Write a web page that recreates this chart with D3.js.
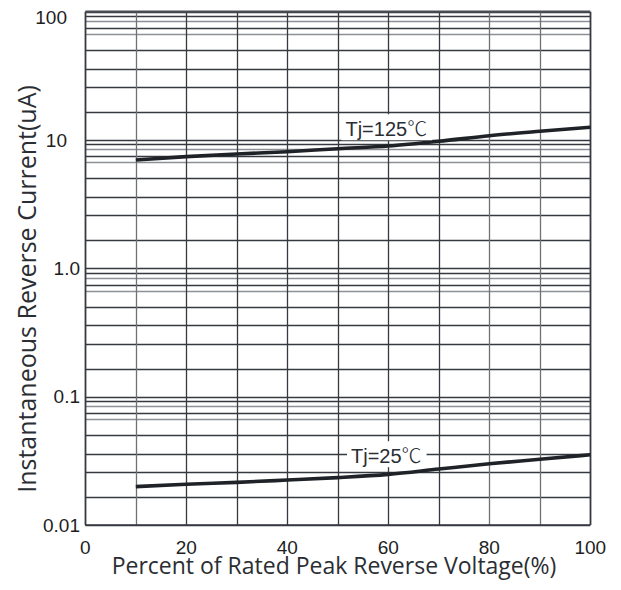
<!DOCTYPE html>
<html>
<head>
<meta charset="utf-8">
<script src="https://cdn.jsdelivr.net/npm/d3@7"></script>
<style>
  html, body { margin: 0; padding: 0; background: #fff; }
  svg { display: block; }
</style>
</head>
<body>
<svg id="chart" width="621" height="590"></svg>
<script>
// ---- data ----
const voltagePct = [10, 20, 30, 40, 50, 60, 70, 80, 90, 100];
const current125 = [6.99, 7.42, 7.78, 8.11, 8.56, 8.98, 9.77, 10.81, 11.70, 12.57];
const current25  = [0.0199, 0.0208, 0.0215, 0.0224, 0.0234, 0.0248, 0.0273, 0.0300, 0.0325, 0.0353];
const seriesNames = ["Tj=125", "Tj=25"];
const seriesUnit = "℃";
const labelAt = [[60, 10.7], [60, 0.0303]];
const xTicks = [0, 20, 40, 60, 80, 100];
const xTickLabels = ["0", "20", "40", "60", "80", "100"];
const yTicks = [100, 10, 1, 0.1, 0.01];
const yTickLabels = ["100", "10", "1.0", "0.1", "0.01"];
const xGrid = [0, 10, 20, 30, 40, 50, 60, 70, 80, 90, 100];
const decades = [0.01, 0.1, 1, 10];
const minorSteps = [1.65, 2.59, 3.59, 5.03, 6.7, 7.46, 8.46, 9.23];
const xTitle = "Percent of Rated Peak Reverse Voltage(%)";
const yTitle = "Instantaneous Reverse Current(uA)";

// ---- layout ----
const svg = d3.select("#chart");
const x = d3.scaleLinear().domain([0, 100]).range([85.3, 590.3]);
const y = d3.scaleLog().domain([0.01, 100]).range([525, 11.7]);

const DARK = "#363940", GREY = "#8d9095";

// horizontal grid
const hLines = [];
decades.forEach(d => {
  hLines.push({ v: d, grey: false });
  minorSteps.forEach((m, i) => hLines.push({ v: d * m, grey: (i === 4 || i === 6) }));
});
hLines.push({ v: 100, grey: false });

const grid = svg.append("g");
grid.selectAll("line.h").data(hLines).join("line")
  .attr("x1", x(0)).attr("x2", x(100))
  .attr("y1", d => Math.round(y(d.v)) + 0.5).attr("y2", d => Math.round(y(d.v)) + 0.5)
  .attr("stroke", d => d.grey ? GREY : DARK)
  .attr("stroke-width", 1.3);

grid.selectAll("line.v").data(xGrid).join("line")
  .attr("x1", d => Math.round(x(d)) + 0.5).attr("x2", d => Math.round(x(d)) + 0.5)
  .attr("y1", y(100)).attr("y2", y(0.01))
  .attr("stroke", (d, i) => (i === 1 || i === 8 || i === 9) ? "#6e7176" : DARK)
  .attr("stroke-width", (d, i) => (i === 0 || i === 10) ? 1.8 : 1.3);

// top / bottom border
svg.append("line").attr("x1", x(0)).attr("x2", x(100))
  .attr("y1", y(100)).attr("y2", y(100))
  .attr("stroke", "#4a4d53").attr("stroke-width", 2.2);
svg.append("line").attr("x1", x(0)).attr("x2", x(100))
  .attr("y1", y(0.01)).attr("y2", y(0.01))
  .attr("stroke", DARK).attr("stroke-width", 1.6);

// curves
const line = d3.line().x(d => x(d[0])).y(d => y(d[1])).curve(d3.curveMonotoneX);
[current125, current25].forEach(vals => {
  svg.append("path")
    .datum(voltagePct.map((v, i) => [v, vals[i]]))
    .attr("d", line)
    .attr("fill", "none")
    .attr("stroke", "#1f2328")
    .attr("stroke-width", 3.6)
    .attr("stroke-linecap", "butt");
});

// series labels with white boxes
seriesNames.forEach((name, i) => {
  const g = svg.append("g");
  const t = g.append("text")
    .attr("x", x(labelAt[i][0]) - 2)
    .attr("y", y(labelAt[i][1]))
    .attr("text-anchor", "middle")
    .attr("font-family", "'Liberation Sans', Arial, sans-serif")
    .attr("font-size", 20)
    .attr("fill", "#2a2d33");
  t.append("tspan").text(name);
  t.append("tspan").attr("font-family", "'Noto Sans CJK SC'").attr("font-weight", 300).text(seriesUnit);
  const bb = t.node().getBBox();
  g.insert("rect", "text")
    .attr("x", bb.x - 4).attr("y", bb.y + 1)
    .attr("width", bb.width + 9).attr("height", bb.height - 3)
    .attr("fill", "#fff");
});

// x tick labels
svg.append("g").selectAll("text").data(xTicks).join("text")
  .attr("x", d => x(d)).attr("y", 553.5)
  .attr("text-anchor", "middle")
  .attr("font-family", "'Liberation Sans', Arial, sans-serif")
  .attr("font-size", 19)
  .attr("fill", "#1e1e1e")
  .text((d, i) => xTickLabels[i]);

// y tick labels
svg.append("g").selectAll("text").data(yTicks).join("text")
  .attr("x", (d, i) => yTickLabels[i].includes(".") ? 80 : 67)
  .attr("y", d => Math.max(y(d), 17) + 6.8)
  .attr("text-anchor", "end")
  .attr("font-family", "'Liberation Sans', Arial, sans-serif")
  .attr("font-size", 19)
  .attr("fill", "#1e1e1e")
  .text((d, i) => yTickLabels[i]);

// axis titles
svg.append("text")
  .attr("x", 334).attr("y", 573.5)
  .attr("text-anchor", "middle")
  .attr("font-family", "'Open Sans', sans-serif")
  .attr("font-size", 23)
  .attr("fill", "#2a2e33")
  .text(xTitle);

svg.append("text")
  .attr("transform", "translate(36,289) rotate(-90)")
  .attr("text-anchor", "middle")
  .attr("font-family", "'Open Sans', sans-serif")
  .attr("font-size", 25)
  .attr("fill", "#2a2e33")
  .text(yTitle);
</script>
</body>
</html>
